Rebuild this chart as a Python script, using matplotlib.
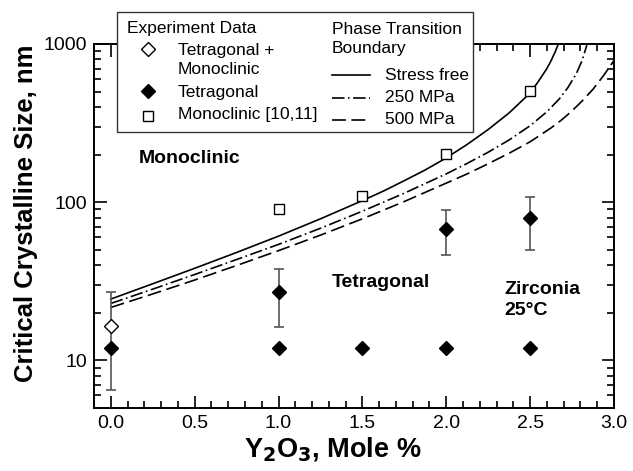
import numpy as np
import matplotlib
matplotlib.use("Agg")
import matplotlib.pyplot as plt
from matplotlib.lines import Line2D
from matplotlib.patches import Rectangle
from matplotlib.ticker import FixedLocator, NullFormatter, MultipleLocator

plt.rcParams['font.family'] = ['Liberation Sans', 'DejaVu Sans']
plt.rcParams['lines.scale_dashes'] = False

# experiment data
mix_x = [0.0]
mix_y = [16.5]
mix_lo = [6.5]
mix_hi = [27.0]

tet_x = [0.0, 1.0, 1.5, 2.0, 2.5]
tet_y = [12, 12, 12, 12, 12]
tet_err_x = [1.0, 2.0, 2.5]
tet_err_y = [27, 68, 79]
tet_err_lo = [16.3, 46.6, 50.0]
tet_err_hi = [37.8, 89.5, 108.0]

mono_x = [1.0, 1.5, 2.0, 2.5]
mono_y = [90, 109, 203, 506]

# phase transition boundaries
free_x = [0.0, 0.25, 0.5, 0.75, 1.0, 1.25, 1.5, 1.625, 1.75, 1.875, 2.0, 2.125,
          2.25, 2.375, 2.5, 2.55, 2.6, 2.625, 2.65, 2.668]
free_y = [24.4, 30.5, 38.2, 48.1, 61.0, 78.5, 102.3, 117.5, 136.8, 160, 190.5, 232,
          288, 367, 490, 582, 700, 785, 895, 1000]
mpa250_x = [0.0, 0.25, 0.5, 0.75, 1.0, 1.25, 1.5, 1.75, 2.0, 2.125, 2.25, 2.375,
            2.5, 2.6, 2.675, 2.725, 2.775, 2.81, 2.84]
mpa250_y = [22.9, 28.2, 34.9, 43.4, 54.1, 68.4, 87.7, 114, 151, 176, 207, 247.5,
            304.5, 373, 451, 530, 648, 786, 1001]
mpa500_x = [0.0, 0.25, 0.5, 0.75, 1.0, 1.25, 1.5, 1.75, 2.0, 2.125, 2.25, 2.375,
            2.5, 2.625, 2.6875, 2.75, 2.8125, 2.875, 2.9375, 3.0]
mpa500_y = [21.6, 26.3, 32.2, 39.8, 49.4, 61.9, 78.5, 101, 132, 151, 175, 204,
            241, 295, 331, 378, 439, 518, 631, 787]

W, H = 633, 471
fig = plt.figure(figsize=(W / 100, H / 100), dpi=100)
ax = fig.add_axes([94 / W, 1 - 408 / H, 520 / W, 364 / H])

dd_style = (0, (9, 2.5, 1.2, 2.5))
dash_style = (0, (10, 4))

ax.plot(free_x, free_y, color='black', lw=1.2, ls='-')
ax.plot(mpa250_x, mpa250_y, color='black', lw=1.2, ls=dd_style)
ax.plot(mpa500_x, mpa500_y, color='black', lw=1.2, ls=dash_style)

err_col = '#555555'
ax.errorbar(mix_x, mix_y,
            yerr=[np.array(mix_y) - np.array(mix_lo), np.array(mix_hi) - np.array(mix_y)],
            fmt='none', ecolor=err_col, elinewidth=1.2, capsize=3.5, capthick=1.2)
ax.errorbar(tet_err_x, tet_err_y,
            yerr=[np.array(tet_err_y) - np.array(tet_err_lo), np.array(tet_err_hi) - np.array(tet_err_y)],
            fmt='none', ecolor=err_col, elinewidth=1.2, capsize=3.5, capthick=1.2)

ax.plot(tet_x, tet_y, 'D', color='black', ms=7.5, ls='none')
ax.plot(tet_err_x, tet_err_y, 'D', color='black', ms=7.5, ls='none')
ax.plot(mix_x, mix_y, 'D', mfc='white', mec='black', mew=1.0, ms=7.5, ls='none')
ax.plot(mono_x, mono_y, 's', mfc='white', mec='black', mew=1.0, ms=7, ls='none')

ax.set_yscale('log')
ax.set_xlim(-0.1, 3.0)
ax.set_ylim(5, 1000)
ax.xaxis.set_minor_locator(MultipleLocator(0.1))
ax.set_xticks([0, 0.5, 1.0, 1.5, 2.0, 2.5, 3.0])
ax.set_xticklabels(['0.0', '0.5', '1.0', '1.5', '2.0', '2.5', '3.0'])
ax.yaxis.set_major_locator(FixedLocator([10, 100, 1000]))
ax.set_yticklabels(['10', '100', '1000'])
ax.yaxis.set_minor_locator(FixedLocator([6, 7, 8, 9, 20, 30, 40, 50, 60, 70, 80, 90,
                                         200, 300, 400, 500, 600, 700, 800, 900]))
ax.yaxis.set_minor_formatter(NullFormatter())
ax.tick_params(which='both', direction='in', top=True, right=True, width=1.2,
               labelsize=14, pad=5)
ax.tick_params(which='major', length=9)
ax.tick_params(which='minor', length=5)
for s in ax.spines.values():
    s.set_linewidth(1.4)

ax.set_xlabel('Y$_\\mathbf{2}$O$_\\mathbf{3}$, Mole %', fontsize=19.5, fontweight='bold', labelpad=2)
ax.set_ylabel('Critical Crystalline Size, nm', fontsize=18.5, fontweight='bold', labelpad=4)
ax.xaxis.label.set_x(0.46)
ax.yaxis.label.set_y(0.536)

ax.text(0.47, 190, 'Monoclinic', fontsize=14, fontweight='bold', ha='center', va='center')
ax.text(1.61, 31, 'Tetragonal', fontsize=14, fontweight='bold', ha='center', va='center')
ax.text(2.345, 24, 'Zirconia\n25°C', fontsize=14, fontweight='bold', ha='left', va='center',
        linespacing=1.3)

# legend box drawn in figure pixels
def px(x, y):
    return x / W, 1 - y / H

x0, y0 = px(117, 132)
x1, y1 = px(473, 12)
fig.add_artist(Rectangle((x0, y0), x1 - x0, y1 - y0, transform=fig.transFigure,
                         facecolor='white', edgecolor='#333333', lw=1.0, zorder=5))

leg_fs = 12.5
def ftext(x, y, s):
    fig.text(*px(x, y), s, fontsize=leg_fs, ha='left', va='center', zorder=6)

ftext(127, 29, 'Experiment Data')
ftext(178, 50, 'Tetragonal +')
ftext(178, 69, 'Monoclinic')
ftext(178, 92, 'Tetragonal')
ftext(178, 114, 'Monoclinic [10,11]')
ftext(332, 29, 'Phase Transition')
ftext(332, 49, 'Boundary')
ftext(385, 75, 'Stress free')
ftext(385, 98, '250 MPa')
ftext(385, 120, '500 MPa')

def fmark(x, y, **kw):
    fig.add_artist(Line2D([px(x, y)[0]], [px(x, y)[1]], transform=fig.transFigure,
                          ls='none', zorder=6, **kw))

fmark(148, 49, marker='D', mfc='white', mec='black', mew=1.0, ms=7.5)
fmark(148, 91, marker='D', color='black', ms=7.5)
fmark(148, 116, marker='s', mfc='white', mec='black', mew=1.0, ms=7)

def fline(y, ls):
    a, b = px(332, y), px(370, y)
    fig.add_artist(Line2D([a[0], b[0]], [a[1], b[1]], transform=fig.transFigure,
                          color='black', lw=1.2, ls=ls, zorder=6))

fline(75, '-')
fline(98, dd_style)
fline(120, dash_style)

fig.savefig('out.png', dpi=100)
